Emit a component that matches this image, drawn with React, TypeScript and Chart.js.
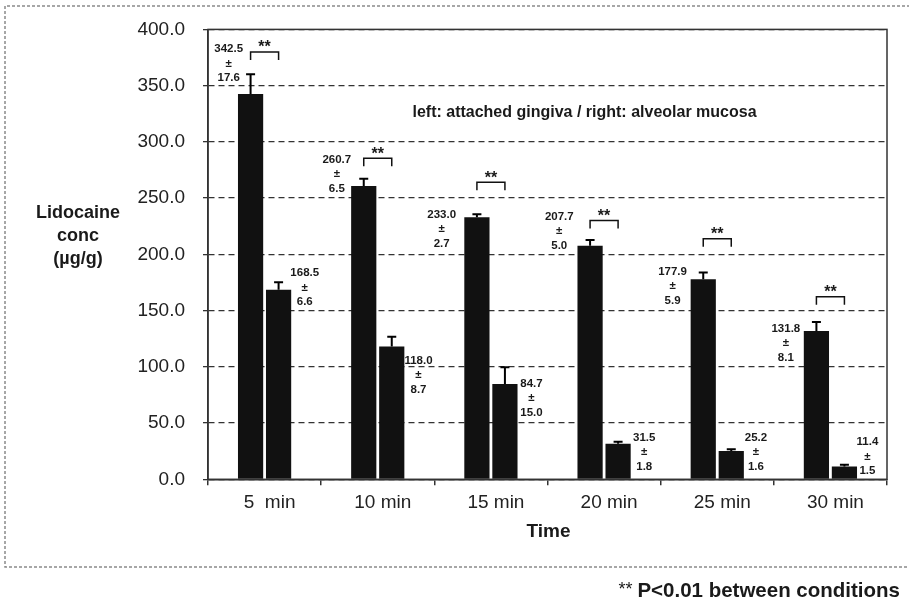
import React, { useEffect, useRef } from "react";
import { Chart, registerables } from "chart.js";

Chart.register(...registerables);

// ---------- data ----------
const categories = ["5  min", "10 min", "15 min", "20 min", "25 min", "30 min"];
const gingivaMeans = [342.5, 260.7, 233.0, 207.7, 177.9, 131.8];
const gingivaSD = [17.6, 6.5, 2.7, 5.0, 5.9, 8.1];
const mucosaMeans = [168.5, 118.0, 84.7, 31.5, 25.2, 11.4];
const mucosaSD = [6.6, 8.7, 15.0, 1.8, 1.6, 1.5];
const yTicks = [0, 50, 100, 150, 200, 250, 300, 350, 400];
const significance = ["**", "**", "**", "**", "**", "**"];

// ---------- annotation layout (data space: [category offset, value]) ----------
const gingivaLabelAnchor = [
  [-0.317, 369.6],
  [-0.362, 271.3],
  [-0.435, 222.4],
  [-0.396, 220.6],
  [-0.395, 171.9],
  [-0.394, 121.2],
];
const mucosaLabelAnchor = [
  [0.355, 170.4],
  [0.36, 92.8],
  [0.358, 72.0],
  [0.355, 24.4],
  [0.342, 24.4],
  [0.327, 20.0],
];
const bracketLevel = [379.9, 285.5, 264.2, 230.1, 213.8, 162.2];

const FONT = "'Liberation Sans', Arial, Helvetica, sans-serif";
const INK = "#1a1a1a";

const annotationPlugin = {
  id: "annotations",
  afterDatasetsDraw(chart: any) {
    const ctx = chart.ctx as CanvasRenderingContext2D;
    const xs = chart.scales.x;
    const ys = chart.scales.y;
    const catW = xs.getPixelForValue(1) - xs.getPixelForValue(0);
    const ca = chart.chartArea;

    ctx.save();
    // error bars (upper only)
    const sds = [gingivaSD, mucosaSD];
    const means = [gingivaMeans, mucosaMeans];
    for (let d = 0; d < 2; d++) {
      const meta = chart.getDatasetMeta(d);
      meta.data.forEach((el: any, j: number) => {
        const top = ys.getPixelForValue(means[d][j] + sds[d][j]);
        ctx.strokeStyle = "#000";
        ctx.lineWidth = 2;
        ctx.beginPath();
        ctx.moveTo(el.x, el.y);
        ctx.lineTo(el.x, top);
        ctx.moveTo(el.x - 4.5, top);
        ctx.lineTo(el.x + 4.5, top);
        ctx.stroke();
      });
    }

    // value labels
    ctx.fillStyle = INK;
    ctx.font = `bold 11.5px ${FONT}`;
    ctx.textAlign = "center";
    ctx.textBaseline = "middle";
    const anchors = [gingivaLabelAnchor, mucosaLabelAnchor];
    for (let d = 0; d < 2; d++) {
      anchors[d].forEach((a, j) => {
        const x = xs.getPixelForValue(j) + a[0] * catW;
        const y = ys.getPixelForValue(a[1]);
        ctx.fillText(means[d][j].toFixed(1), x, y - 14.5);
        ctx.fillText("\u00b1", x, y);
        ctx.fillText(sds[d][j].toFixed(1), x, y + 14.5);
      });
    }

    // significance brackets
    const m0 = chart.getDatasetMeta(0);
    const m1 = chart.getDatasetMeta(1);
    bracketLevel.forEach((lv, j) => {
      const x1 = m0.data[j].x;
      const x2 = m1.data[j].x;
      const y = ys.getPixelForValue(lv);
      ctx.strokeStyle = "#111";
      ctx.lineWidth = 1.5;
      ctx.beginPath();
      ctx.moveTo(x1, y + 8);
      ctx.lineTo(x1, y);
      ctx.lineTo(x2, y);
      ctx.lineTo(x2, y + 8);
      ctx.stroke();
      ctx.font = `bold 16px ${FONT}`;
      ctx.fillStyle = INK;
      ctx.textBaseline = "middle";
      ctx.fillText(significance[j], (x1 + x2) / 2, y - 4);
    });

    // plot box
    ctx.strokeStyle = "#333";
    ctx.lineWidth = 1.5;
    ctx.strokeRect(ca.left, ca.top, ca.right - ca.left, ca.bottom - ca.top);

    // inner legend text
    ctx.fillStyle = INK;
    ctx.font = `bold 16px ${FONT}`;
    ctx.textAlign = "center";
    ctx.textBaseline = "middle";
    ctx.fillText("left: attached gingiva / right: alveolar mucosa", 584.5, 113);

    // y title
    ctx.font = `bold 18px ${FONT}`;
    ctx.fillText("Lidocaine", 78, 213);
    ctx.fillText("conc", 78, 236);
    ctx.fillText("(\u00b5g/g)", 78, 259);

    // x title
    ctx.font = `bold 19px ${FONT}`;
    ctx.fillText("Time", (ca.left + ca.right) / 2 + 1, 532);

    // outer dashed frame
    ctx.strokeStyle = "#8a8a8a";
    ctx.lineWidth = 1.5;
    ctx.setLineDash([3, 2]);
    ctx.beginPath();
    ctx.moveTo(915, 6);
    ctx.lineTo(5, 6);
    ctx.lineTo(5, 567);
    ctx.lineTo(915, 567);
    ctx.stroke();
    ctx.setLineDash([]);

    // footer note
    ctx.textAlign = "right";
    ctx.font = `bold 20.5px ${FONT}`;
    ctx.fillText("P<0.01 between conditions", 900, 591);
    const w = ctx.measureText("P<0.01 between conditions").width;
    ctx.font = `18px ${FONT}`;
    ctx.fillText("**", 900 - w - 5, 590);
    ctx.restore();
  },
};

export default function App() {
  const ref = useRef<HTMLCanvasElement | null>(null);
  useEffect(() => {
    if (!ref.current) return;
    const chart = new Chart(ref.current, {
      type: "bar",
      data: {
        labels: categories,
        datasets: [
          {
            label: "attached gingiva",
            data: gingivaMeans,
            backgroundColor: "#111",
            categoryPercentage: 0.495,
            barPercentage: 0.9,
          },
          {
            label: "alveolar mucosa",
            data: mucosaMeans,
            backgroundColor: "#111",
            categoryPercentage: 0.495,
            barPercentage: 0.9,
          },
        ],
      },
      options: {
        responsive: false,
        animation: false,
        devicePixelRatio: 1,
        layout: { padding: { top: 27, right: 22, bottom: 63.7, left: 0 } },
        plugins: {
          legend: { display: false },
          tooltip: { enabled: false },
          title: { display: false },
        },
        scales: {
          x: {
            grid: {
              offset: true,
              drawOnChartArea: false,
              drawTicks: true,
              tickLength: 6,
              color: "#333",
              lineWidth: 1.5,
            },
            border: { display: true, color: "#333", width: 1.5 },
            ticks: {
              font: { family: FONT, size: 19 },
              color: "#222",
              padding: 6,
              labelOffset: 5,
              maxRotation: 0,
              autoSkip: false,
            },
            afterFit: (s: any) => {
              s.height = 60;
            },
          },
          y: {
            min: 0,
            max: 400,
            afterBuildTicks: (s: any) => {
              s.ticks = yTicks.map((v) => ({ value: v }));
            },
            grid: {
              color: "#333",
              lineWidth: 1.3,
              tickBorderDash: [],
              drawTicks: true,
              tickLength: 5,
            },
            border: { display: true, color: "#333", width: 1.5, dash: [6, 4] },
            ticks: {
              font: { family: FONT, size: 19 },
              color: "#222",
              padding: 18,
              callback: (v: any) => Number(v).toFixed(1),
            },
            afterFit: (s: any) => {
              s.width = 208;
            },
          },
        },
      },
      plugins: [annotationPlugin],
    });
    return () => chart.destroy();
  }, []);

  return (
    <div style={{ position: "absolute", left: 0, top: 0, width: 909, height: 603, background: "#fff" }}>
      <canvas ref={ref} width={909} height={603} style={{ width: 909, height: 603 }} />
    </div>
  );
}
